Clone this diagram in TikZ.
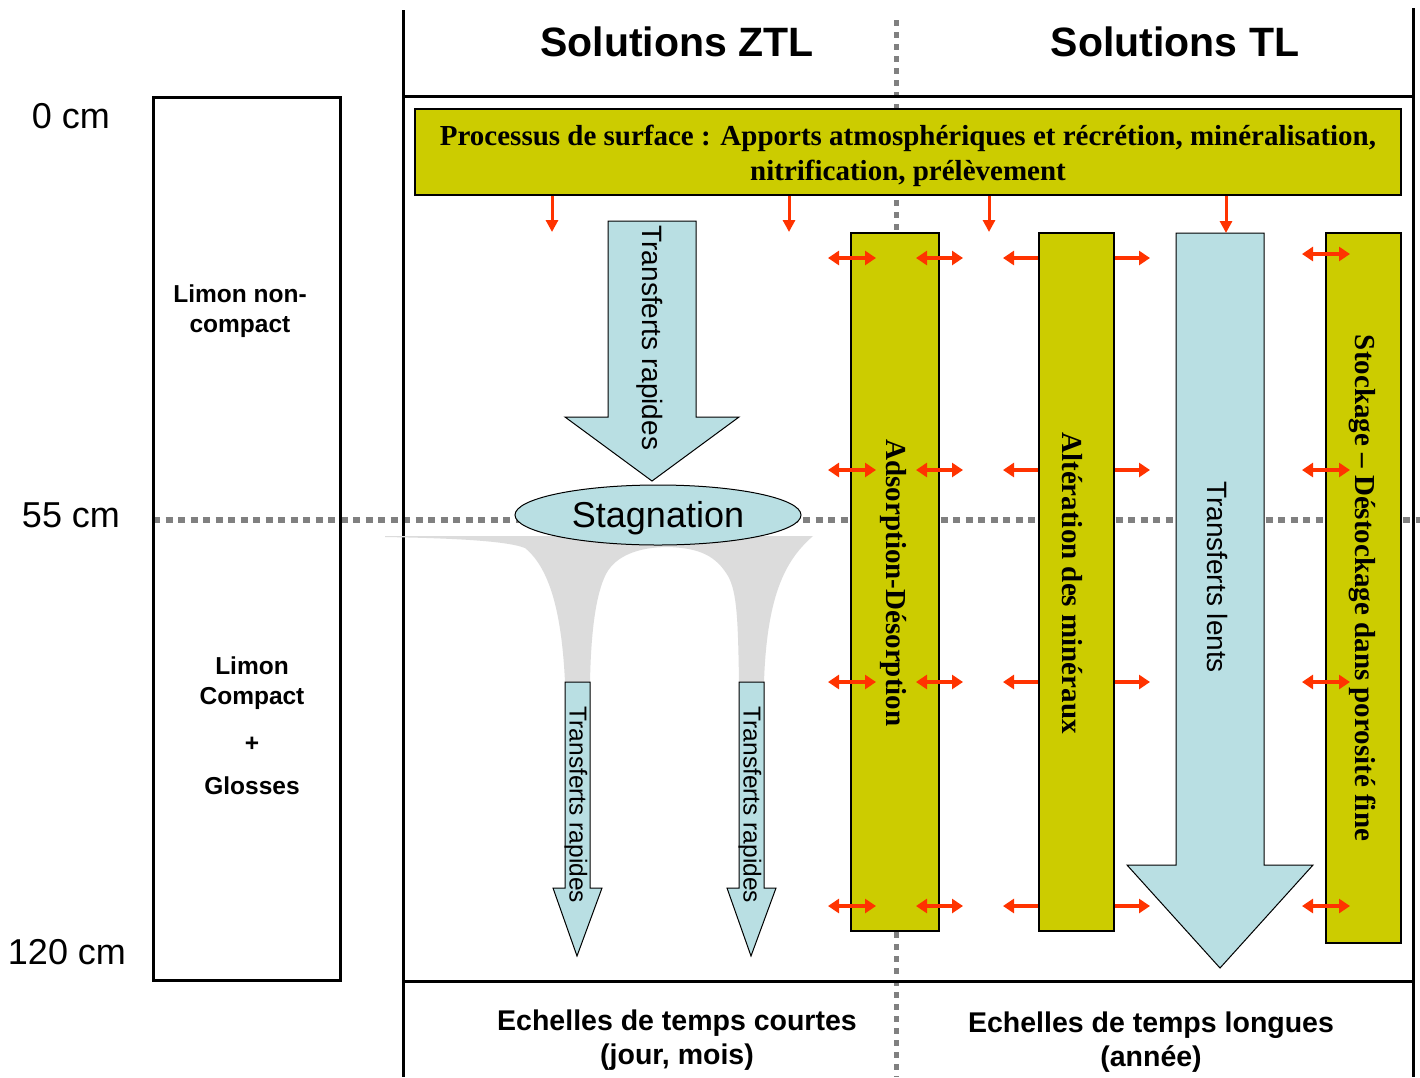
\documentclass[tikz,border=0pt]{standalone}
\usepackage{fontspec}
\setmainfont{Liberation Serif}
\setsansfont{Liberation Sans}
\usetikzlibrary{arrows.meta,shapes.geometric}
\definecolor{colOlive}{HTML}{CCCC00}
\definecolor{colBlue}{HTML}{B9DFE3}
\definecolor{colRed}{HTML}{FF3300}
\definecolor{colGray}{HTML}{808080}
\definecolor{colFunnel}{HTML}{DCDCDC}
\begin{document}
\begin{tikzpicture}[x=1pt,y=-1pt,line join=miter,
  frame/.style={line width=3pt},
  dotline/.style={colGray,line width=6pt,dash pattern=on 7pt off 5.5pt},
  vdotline/.style={colGray,line width=5pt,dash pattern=on 6pt off 6pt},
  bigarrow/.style={fill=colBlue,draw=black,line width=1pt},
  column/.style={fill=colOlive,draw=black,line width=1.3pt,inner sep=0pt},
  redarr/.style={colRed,line width=3pt,-{Triangle[length=12pt,width=12pt]}},
  dblarr/.style={colRed,line width=4pt,{Triangle[length=11pt,width=14pt]}-{Triangle[length=11pt,width=14pt]}},
  onearr/.style={colRed,line width=4pt,-{Triangle[length=11pt,width=14pt]}},
  depth/.style={font=\sffamily\fontsize{36}{40}\selectfont},
  header/.style={font=\sffamily\bfseries\fontsize{41}{46}\selectfont},
  bottomlbl/.style={font=\sffamily\bfseries\fontsize{28.5}{34}\selectfont,align=center},
  soil/.style={font=\sffamily\bfseries\fontsize{24.5}{30}\selectfont,align=center},
  coltext/.style={font=\rmfamily\bfseries\fontsize{29}{33}\selectfont,rotate=-90},
  arrtext/.style={font=\sffamily\fontsize{28}{32}\selectfont,rotate=-90}
]
\useasboundingbox (0,0) rectangle (1420,1077);
\fill[white] (0,0) rectangle (1420,1077);

% dotted guide lines
\draw[dotline] (153,520) -- (1420,520);
\draw[vdotline] (896,20) -- (896,1077);

% frame
\draw[frame] (403,10) -- (403,1077);
\draw[frame] (1413,8) -- (1413,1077);
\draw[frame] (403,96) -- (1413,96);
\draw[frame] (403,981) -- (1413,981);
\draw[frame] (153,97) rectangle (340,980);

% depth labels
\node[depth] (d0) at (71,116) {0 cm};
\node[depth] (d55) at (71,515) {55 cm};
\node[depth] (d120) at (67,952) {120 cm};

% soil labels
\node[soil] (lnc) at (240,311) {Limon non-\\compact};
\node[soil] (lc) at (252,726) {Limon\\Compact\\[17pt]+\\[13pt]Glosses};

% headers
\node[header] (hz) at (677,42) {Solutions ZTL};
\node[header] (ht) at (1175,42) {Solutions TL};

% funnel shape
\fill[colFunnel] (385,536) -- (813,536)
  .. controls (788,558) and (767,590) .. (764,682) -- (739,682)
  .. controls (738,620) and (737,592) .. (728,576)
  .. controls (716,556) and (700,548) .. (668,547)
  .. controls (640,547) and (616,555) .. (606,574)
  .. controls (596,594) and (591,630) .. (590,682) -- (565,682)
  .. controls (562,620) and (552,570) .. (525,548)
  .. controls (505,540) and (440,538) .. (385,537) -- cycle;

% surface box
\node[column,minimum width=986pt,minimum height=86pt] (surf) at (908,152) {};
\node[align=center,font=\rmfamily\bfseries\fontsize{29}{35}\selectfont] (surft) at (908,156)
  {Processus de surface : Apports atmosphériques et récrétion, minéralisation,\\nitrification, prélèvement};

% big arrow transferts rapides
\draw[bigarrow] (608,221) -- (696,221) -- (696,417) -- (739,417) -- (652,481)
  -- (565,417) -- (608,417) -- cycle;
\node[arrtext,anchor=west] (tr) at (650,222) {Transferts rapides};

% stagnation
\node[ellipse,fill=colBlue,draw=black,line width=1pt,minimum width=286pt,
  minimum height=60pt,inner sep=0pt] (stag) at (658,515) {};
\node[font=\sffamily\fontsize{36}{40}\selectfont] (stagt) at (658,518) {Stagnation};

% small arrows
\draw[bigarrow] (565,682) -- (590,682) -- (590,888) -- (602,888) -- (577,956)
  -- (553,888) -- (565,888) -- cycle;
\node[arrtext,anchor=west,font=\sffamily\fontsize{24.5}{28}\selectfont] (tr1) at (576,703) {Transferts rapides};
\draw[bigarrow] (739,682) -- (764,682) -- (764,888) -- (776,888) -- (751,956)
  -- (727,888) -- (739,888) -- cycle;
\node[arrtext,anchor=west,font=\sffamily\fontsize{24.5}{28}\selectfont] (tr2) at (750,703) {Transferts rapides};

% columns
\node[column,minimum width=88pt,minimum height=698pt] (c1) at (895,582) {};
\node[coltext] (t1) at (893,583) {Adsorption-Désorption};
\node[column,minimum width=75pt,minimum height=698pt] (c2) at (1076.5,582) {};
\node[coltext] (t2) at (1072,583) {Altération des minéraux};
\node[column,minimum width=75pt,minimum height=710pt] (c3) at (1363.5,588) {};
\node[coltext] (t3) at (1362,588) {Stockage – Déstockage dans porosité fine};

% transferts lents
\draw[bigarrow] (1176,233) -- (1264,233) -- (1264,865) -- (1313,865) -- (1220,968)
  -- (1127,865) -- (1176,865) -- cycle;
\node[arrtext] (tl) at (1217,577) {Transferts lents};

% red down arrows
\coordinate (a1) at (552,232);
\coordinate (a2) at (789,232);
\coordinate (a3) at (989,232);
\coordinate (a4) at (1226,233);
\foreach \a in {a1,a2,a3,a4}
  \draw[redarr] (\a |- surf.south) -- (\a);

% red exchange arrows
\foreach \y in {258,470,682,906} {
  \draw[dblarr] (828,\y) -- (876,\y);
  \draw[dblarr] (916,\y) -- (963,\y);
  \draw[onearr] (c2.west |- 0,\y) -- (1003,\y);
  \draw[onearr] (c2.east |- 0,\y) -- (1150,\y);
}
\foreach \y in {254,470,682,906}
  \draw[dblarr] (1302,\y) -- (1350,\y);

% bottom labels
\node[bottomlbl] (bc) at (677,1040) {Echelles de temps courtes\\(jour, mois)};
\node[bottomlbl] (bl) at (1151,1042) {Echelles de temps longues\\(année)};
\end{tikzpicture}
\end{document}
